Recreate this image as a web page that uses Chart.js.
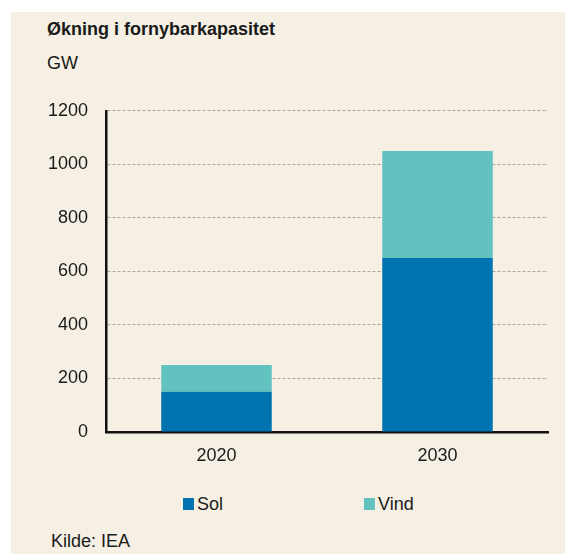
<!DOCTYPE html>
<html>
<head>
<meta charset="utf-8">
<script src="https://cdn.jsdelivr.net/npm/chart.js@4"></script>
<style>
  html, body { margin: 0; padding: 0; background: #ffffff; width: 565px; height: 554px; overflow: hidden; }
  #panel { position: absolute; left: 11px; top: 12px; width: 554px; height: 542px; background: #f5f0e3; }
  .txt { position: absolute; font-family: "Liberation Sans", Arial, sans-serif; color: #1a1a1a; white-space: nowrap; line-height: 20px; }
  #title { left: 47px; top: 19px; font-size: 18px; font-weight: bold; }
  #unit { left: 47px; top: 53px; font-size: 18px; }
  #source { left: 51px; top: 531px; font-size: 18px; }
  #legend { position: absolute; left: 0; top: 494px; width: 565px; height: 20px; }
  .litem { position: absolute; top: 0; font-family: "Liberation Sans", Arial, sans-serif; font-size: 18px; line-height: 20px; color: #1a1a1a; }
  .lbox { position: absolute; top: 4px; width: 11px; height: 12px; }
  .ltext { position: absolute; left: 14px; top: 0; }
  #wrap { position: absolute; left: 11px; top: 82px; width: 554px; height: 391px; }
</style>
</head>
<body>
<div id="panel"></div>
<div class="txt" id="title">Økning i fornybarkapasitet</div>
<div class="txt" id="unit">GW</div>
<div id="wrap"><canvas id="c" width="554" height="391"></canvas></div>
<div id="legend"></div>
<div class="txt" id="source">Kilde: IEA</div>
<script>
const categories = ["2020", "2030"];
const solValues = [150, 650];
const vindValues = [100, 400];
const seriesNames = ["Sol", "Vind"];
const seriesColors = ["#0073b0", "#62c2bf"];
const yTicks = [0, 200, 400, 600, 800, 1000, 1200];

const datasets = [
  { label: seriesNames[0], data: solValues, backgroundColor: seriesColors[0] },
  { label: seriesNames[1], data: vindValues, backgroundColor: seriesColors[1] }
].map(d => Object.assign(d, { barPercentage: 0.5, categoryPercentage: 1.0, borderWidth: 0 }));

const font = { family: "'Liberation Sans', Arial, sans-serif", size: 18 };

new Chart(document.getElementById('c'), {
  type: 'bar',
  data: { labels: categories, datasets },
  options: {
    responsive: false,
    animation: false,
    devicePixelRatio: 1,
    layout: { padding: { top: 11, right: 17, left: 0, bottom: 0 } },
    plugins: { legend: { display: false }, tooltip: { enabled: false } },
    scales: {
      x: {
        stacked: true,
        grid: { display: false, drawTicks: false },
        border: { display: true, color: '#111111', width: 2.5 },
        ticks: { color: '#1a1a1a', font, padding: 13 },
        afterFit: s => { s.height = 41; }
      },
      y: {
        stacked: true,
        min: 0, max: 1200,
        afterBuildTicks: s => { s.ticks = yTicks.map(v => ({ value: v })); },
        grid: { color: '#aaa59b', lineWidth: 1, drawTicks: false },
        border: { display: true, color: '#111111', width: 2.5, dash: [3, 2] },
        ticks: { color: '#1a1a1a', font, padding: 18, callback: v => String(v) },
        afterFit: s => { s.width = 95; }
      }
    }
  }
});

// legend built from series definitions
const legend = document.getElementById('legend');
const legendX = [183, 364];
seriesNames.forEach((name, i) => {
  const item = document.createElement('div');
  item.className = 'litem';
  item.style.left = legendX[i] + 'px';
  const box = document.createElement('div');
  box.className = 'lbox';
  box.style.background = seriesColors[i];
  const t = document.createElement('div');
  t.className = 'ltext';
  t.textContent = name;
  item.appendChild(box); item.appendChild(t);
  legend.appendChild(item);
});
</script>
</body>
</html>
